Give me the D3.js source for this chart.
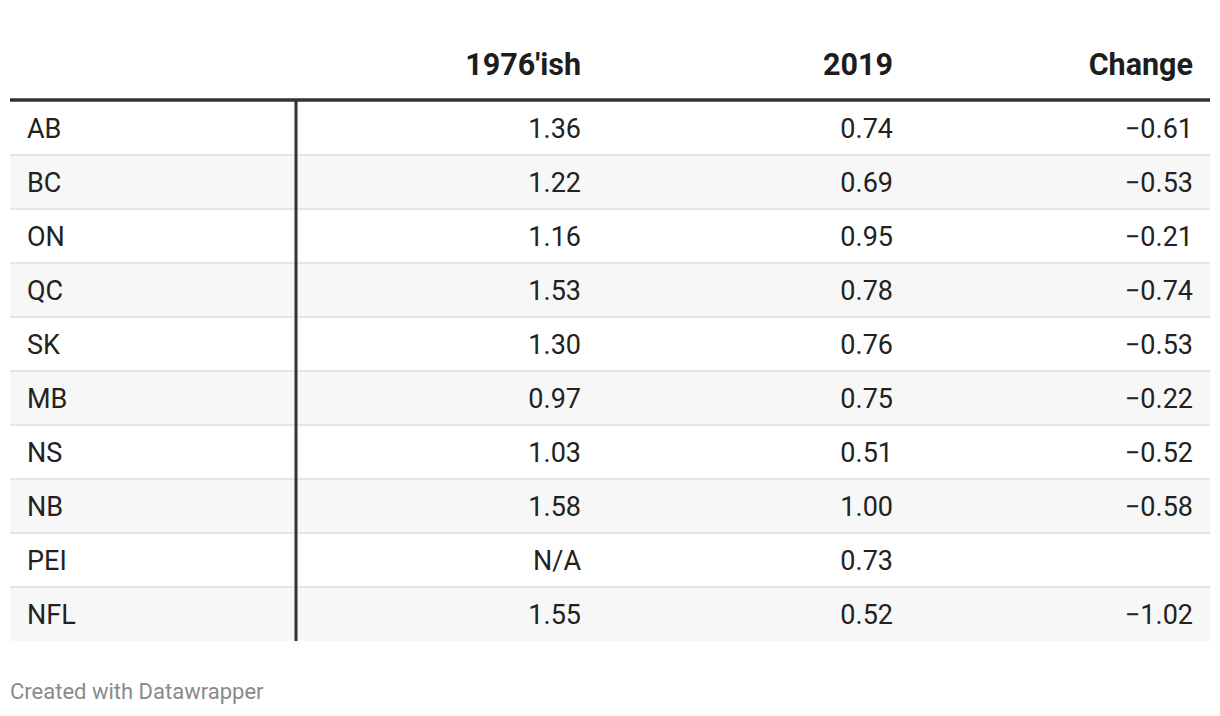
<!DOCTYPE html>
<html>
<head>
<meta charset="utf-8">
<script src="https://cdn.jsdelivr.net/npm/d3@7"></script>
<style>
  html, body { margin: 0; padding: 0; background: #fff; }
  svg { display: block; }
  text { font-family: Roboto, "Noto Sans", sans-serif; }
</style>
</head>
<body>
<svg id="chart" width="1220" height="716"></svg>
<script>
const columns = ["", "1976'ish", "2019", "Change"];
const provinces = ["AB", "BC", "ON", "QC", "SK", "MB", "NS", "NB", "PEI", "NFL"];
const values1976 = [1.36, 1.22, 1.16, 1.53, 1.30, 0.97, 1.03, 1.58, null, 1.55];
const values2019 = [0.74, 0.69, 0.95, 0.78, 0.76, 0.75, 0.51, 1.00, 0.73, 0.52];
const changes = [-0.61, -0.53, -0.21, -0.74, -0.53, -0.22, -0.52, -0.58, null, -1.02];

const svg = d3.select("#chart");
const left = 10, right = 1210;
const headerBottom = 100;

const y = d3.scaleBand().domain(provinces).range([101, 641]).padding(0);
const colRight = [null, 581, 893, 1193];

const fmt = v => v == null ? "" : d3.format(".2f")(v).replace("-", "\u2212");

// striped backgrounds
svg.append("g").selectAll("rect")
  .data(provinces)
  .join("rect")
  .attr("x", left).attr("width", right - left)
  .attr("y", d => y(d)).attr("height", y.bandwidth())
  .attr("fill", (d, i) => i % 2 === 1 ? "#f7f7f7" : "#ffffff");

// row separators
svg.append("g").selectAll("line")
  .data(provinces.slice(1))
  .join("line")
  .attr("x1", left).attr("x2", right)
  .attr("y1", d => y(d)).attr("y2", d => y(d))
  .attr("stroke", "#e6e6e6").attr("stroke-width", 2);

// header
svg.append("g").selectAll("text")
  .data(columns.slice(1))
  .join("text")
  .attr("x", (d, i) => colRight[i + 1])
  .attr("y", 75)
  .attr("text-anchor", "end")
  .attr("font-size", 30.5)
  .attr("font-weight", 700)
  .attr("fill", "#1d1d1d")
  .text(d => d);

// header border
svg.append("line")
  .attr("x1", left).attr("x2", right)
  .attr("y1", headerBottom).attr("y2", headerBottom)
  .attr("stroke", "#333").attr("stroke-width", 3.5);

// vertical divider
svg.append("line")
  .attr("x1", 296).attr("x2", 296)
  .attr("y1", headerBottom).attr("y2", y.range()[1])
  .attr("stroke", "#333").attr("stroke-width", 3);

// body
const rows = svg.append("g").selectAll("g")
  .data(provinces.map((p, i) => ({p, a: values1976[i], b: values2019[i], c: changes[i]})))
  .join("g")
  .attr("transform", d => `translate(0, ${y(d.p) + y.bandwidth() / 2 + 10})`);

rows.append("text").attr("x", 27).text(d => d.p);
rows.append("text").attr("x", colRight[1]).attr("text-anchor", "end").text(d => d.a == null ? "N/A" : fmt(d.a));
rows.append("text").attr("x", colRight[2]).attr("text-anchor", "end").text(d => fmt(d.b));
rows.append("text").attr("x", colRight[3]).attr("text-anchor", "end").text(d => fmt(d.c));
rows.selectAll("text").attr("font-size", 27).attr("fill", "#222");

// footer
svg.append("text")
  .attr("x", 10).attr("y", 699)
  .attr("font-size", 22)
  .attr("fill", "#8a8a8a")
  .text("Created with Datawrapper");
</script>
</body>
</html>
